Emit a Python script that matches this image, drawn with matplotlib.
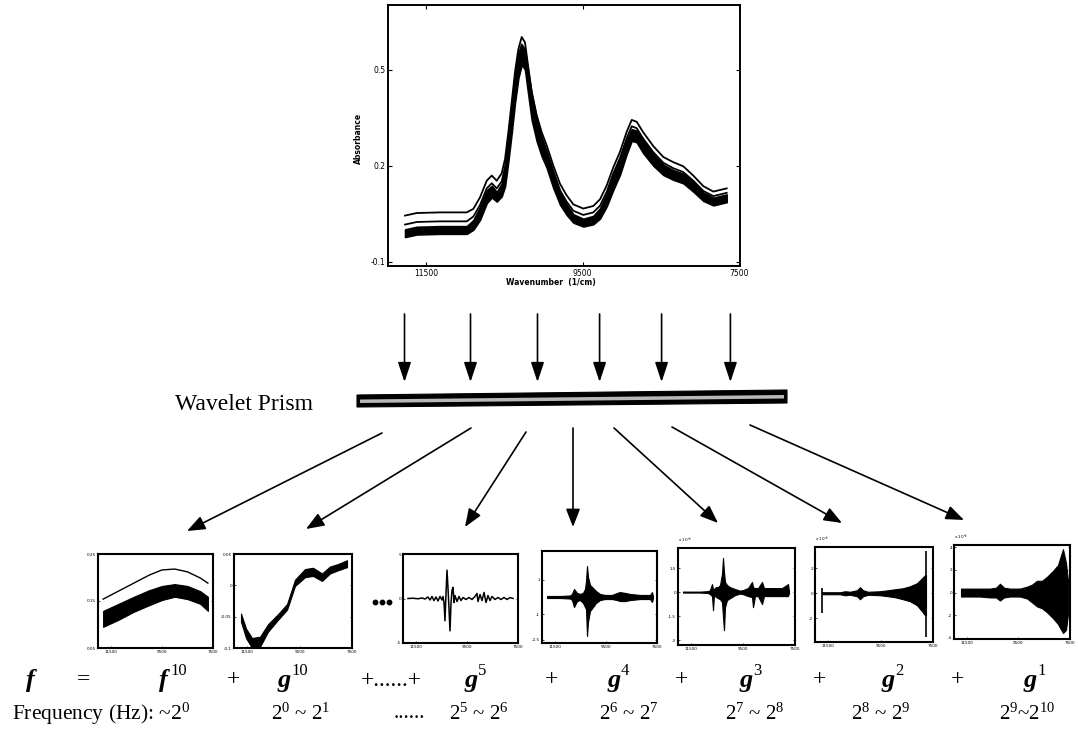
import matplotlib
matplotlib.use('Agg')
import numpy as np
import matplotlib.pyplot as plt
from matplotlib.patches import Polygon, FancyArrowPatch, ArrowStyle

W, H = 1078, 733
plt.rcParams['font.family'] = ['Liberation Serif', 'DejaVu Serif']
plt.rcParams['mathtext.fontset'] = 'custom'
plt.rcParams['mathtext.rm'] = 'Liberation Serif'
plt.rcParams['mathtext.it'] = 'Liberation Serif:italic'
plt.rcParams['mathtext.bf'] = 'Liberation Serif:bold'

# ---------------- data: main NIR spectra ----------------
spec_wn = [11768, 11619, 11321, 10980, 10895, 10810, 10724, 10660, 10596, 10533, 10490,
           10448, 10405, 10363, 10320, 10277, 10235, 10193, 10150, 10086, 10021, 9957,
           9873, 9787, 9702, 9617, 9490, 9362, 9276, 9191, 9106, 9021, 8935, 8871, 8807,
           8723, 8595, 8467, 8340, 8212, 8084, 7956, 7828, 7657]
spec_center = [-0.010, -0.002, 0.000, 0.000, 0.016, 0.052, 0.104, 0.120, 0.104, 0.125, 0.167,
               0.250, 0.344, 0.438, 0.510, 0.547, 0.531, 0.458, 0.385, 0.313, 0.260, 0.219,
               0.156, 0.099, 0.063, 0.036, 0.023, 0.031, 0.052, 0.094, 0.151, 0.198, 0.260,
               0.297, 0.292, 0.260, 0.219, 0.188, 0.172, 0.161, 0.135, 0.104, 0.089, 0.099]
spec_band_half = [0.012, 0.012, 0.012, 0.012, 0.015, 0.02, 0.02, 0.018, 0.015, 0.02, 0.03,
                  0.035, 0.04, 0.04, 0.035, 0.03, 0.03, 0.035, 0.04, 0.035, 0.03, 0.025,
                  0.025, 0.02, 0.016, 0.013, 0.012, 0.013, 0.016, 0.02, 0.025, 0.025, 0.022,
                  0.018, 0.018, 0.02, 0.018, 0.016, 0.015, 0.015, 0.015, 0.013, 0.012, 0.012]
spec_top_offset = [0.055, 0.055, 0.055, 0.055, 0.05, 0.05, 0.05, 0.05, 0.05, 0.052, 0.055,
                   0.055, 0.055, 0.055, 0.055, 0.056, 0.055, 0.05, 0.048, 0.046, 0.045, 0.045,
                   0.045, 0.045, 0.045, 0.044, 0.044, 0.044, 0.044, 0.045, 0.045, 0.046, 0.047,
                   0.047, 0.046, 0.045, 0.043, 0.04, 0.04, 0.038, 0.035, 0.033, 0.031, 0.031]
spec_second_offset = [0.027, 0.027, 0.027, 0.027, 0.026, 0.026, 0.026, 0.026, 0.026, 0.027,
                      0.03, 0.035, 0.035, 0.035, 0.035, 0.033, 0.033, 0.03, 0.028, 0.027, 0.026,
                      0.026, 0.026, 0.025, 0.025, 0.024, 0.024, 0.024, 0.024, 0.025, 0.026,
                      0.027, 0.027, 0.027, 0.026, 0.025, 0.024, 0.022, 0.021, 0.02, 0.019,
                      0.018, 0.017, 0.017]
main_xticks = [11500, 9500, 7500]
main_yticks = [-0.1, 0.2, 0.5]
main_yticklabels = ['-0.1', '0.2', '0.5']

# ---------------- data: f10 approximation ----------------
f10_wn = [11800, 11200, 10600, 10000, 9500, 9000, 8500, 8000, 7700]
f10_top = [0.154, 0.171, 0.188, 0.205, 0.216, 0.218, 0.212, 0.199, 0.188]
f10_hi = [0.129, 0.144, 0.159, 0.173, 0.182, 0.186, 0.182, 0.171, 0.159]
f10_lo = [0.095, 0.110, 0.127, 0.141, 0.152, 0.159, 0.154, 0.144, 0.129]

# ---------------- data: g10 detail ----------------
g10_wn = [11733, 11542, 11314, 11008, 10703, 10322, 9979, 9674, 9292, 8987, 8644, 8339, 8034, 7691]
g10_lo = [-0.058, -0.084, -0.100, -0.098, -0.074, -0.055, -0.039, -0.001, 0.013, 0.015, 0.007, 0.019, 0.024, 0.029]
g10_hi = [-0.045, -0.069, -0.084, -0.082, -0.062, -0.046, -0.030, 0.009, 0.026, 0.028, 0.019, 0.030, 0.034, 0.040]

# ---------------- data: g5 detail ----------------
g5_wn = [11804, 11609, 11413, 11257, 11139, 11022, 10943, 10865, 10787, 10709, 10630, 10552,
         10474, 10435, 10396, 10357, 10317, 10278, 10239, 10200, 10161, 10122, 10083, 10043,
         10004, 9965, 9887, 9809, 9730, 9652, 9535, 9417, 9300, 9183, 9104, 9065, 8987, 8909,
         8830, 8752, 8674, 8596, 8517, 8400, 8283, 8165, 8048, 7930, 7813, 7696]
g5_val = [0.0, 0.03, -0.03, 0.06, -0.06, 0.17, -0.17, 0.23, -0.23, 0.17, -0.28, 0.23,
          -0.17, 0.23, -0.45, -2.5, 0.57, 3.18, 1.14, -1.14, -3.64, -0.57, 0.91, 1.25,
          -0.45, 0.34, -0.34, 0.23, -0.23, 0.11, -0.11, 0.11, -0.11, 0.23, 0.57, -0.34, 0.45, -0.23,
          0.68, -0.45, 0.34, -0.23, 0.23, -0.11, 0.11, -0.11, 0.11, -0.11, 0.11, 0.0]

# ---------------- data: g4 detail (envelope) ----------------
g4_wn = [11804, 11296, 10904, 10826, 10748, 10630, 10513, 10396, 10317, 10278, 10239, 10200,
         10122, 10004, 9887, 9730, 9535, 9261, 9065, 8948, 8752, 8557, 8165, 7774, 7696, 7657]
g4_hi = [0.06, 0.06, 0.09, 0.18, 0.47, 0.24, 0.18, 0.24, 0.47, 0.94, 1.82, 1.18, 0.71, 0.53,
         0.35, 0.18, 0.12, 0.12, 0.24, 0.29, 0.24, 0.18, 0.12, 0.12, 0.29, 0.06]
g4_lo = [-0.06, -0.06, -0.09, -0.18, -0.59, -0.24, -0.18, -0.35, -0.59, -0.71, -2.29, -1.47,
         -0.82, -0.59, -0.35, -0.18, -0.12, -0.12, -0.18, -0.24, -0.24, -0.18, -0.12, -0.12, -0.29, -0.06]

# ---------------- data: g3 detail (envelope) ----------------
g3_wn = [11808, 11154, 10846, 10769, 10692, 10654, 10615, 10538, 10462, 10385, 10308, 10269,
         10231, 10192, 10115, 10000, 9808, 9615, 9500, 9308, 9154, 9115, 9038, 8923, 8769,
         8692, 8577, 8269, 8000, 7769, 7731]
g3_hi = [0.03, 0.03, 0.06, 0.13, 0.5, 0.19, 0.19, 0.31, 0.31, 0.44, 1.13, 2.13, 1.25, 0.63,
         0.44, 0.31, 0.19, 0.09, 0.13, 0.25, 0.63, 0.31, 0.25, 0.25, 0.63, 0.25, 0.25, 0.25,
         0.25, 0.5, 0.06]
g3_lo = [-0.03, -0.03, -0.06, -0.13, -0.25, -1.13, -0.19, -0.31, -0.38, -0.44, -0.63, -1.56,
         -2.38, -0.94, -0.5, -0.38, -0.19, -0.09, -0.13, -0.25, -0.31, -0.94, -0.25, -0.25,
         -0.75, -0.25, -0.25, -0.25, -0.25, -0.25, -0.06]

# ---------------- data: g2 detail (envelope + edge spikes) ----------------
g2_wn = [11733, 11047, 10856, 10665, 10398, 10284, 10169, 9979, 9521, 9216, 8949, 8644,
         8377, 8110, 7919, 7805, 7767]
g2_hi = [0.08, 0.08, 0.16, 0.12, 0.24, 0.48, 0.24, 0.12, 0.16, 0.24, 0.32, 0.40, 0.56,
         0.80, 1.20, 1.44, 1.44]
g2_lo = [-0.08, -0.08, -0.16, -0.12, -0.24, -0.48, -0.24, -0.12, -0.16, -0.24, -0.32, -0.48,
         -0.64, -0.96, -1.44, -1.76, -1.76]
g2_spike_wn = [11733, 7767]
g2_spike_lo = [-1.6, -3.5]
g2_spike_hi = [0.4, 3.4]

# ---------------- data: g1 detail (envelope) ----------------
g1_wn = [11728, 11379, 10991, 10603, 10371, 10216, 10060, 9828, 9440, 9168, 8974, 8780,
         8586, 8392, 8160, 7966, 7772, 7655, 7569]
g1_hi = [0.35, 0.35, 0.35, 0.35, 0.43, 0.78, 0.43, 0.35, 0.35, 0.52, 0.70, 1.04, 1.04,
         1.39, 1.91, 2.43, 3.83, 2.61, 0.87]
g1_lo = [-0.35, -0.35, -0.35, -0.43, -0.43, -0.70, -0.43, -0.35, -0.35, -0.52, -0.87, -1.22,
         -1.39, -1.74, -2.26, -2.78, -3.57, -3.30, -1.74]

small_xticks = [11500, 9500, 7500]
small_xticklabels = ['11500', '9500', '7500']

# formula / frequency labels
formula_letters = ['f', 'g', 'g', 'g', 'g', 'g', 'g']
formula_sups = ['10', '10', '5', '4', '3', '2', '1']
freq_labels = [r'$2^0$ ~ $2^1$', '......', r'$2^5$ ~ $2^6$', r'$2^6$ ~ $2^7$',
               r'$2^7$ ~ $2^8$', r'$2^8$ ~ $2^9$', r'$2^9$~$2^{10}$']

# ---------------- figure ----------------
fig = plt.figure(figsize=(W / 100, H / 100), dpi=100)
bg = fig.add_axes([0, 0, 1, 1])
bg.set_xlim(0, W)
bg.set_ylim(H, 0)
bg.axis('off')


def px_axes(l, t, r, b):
    return fig.add_axes([l / W, 1 - b / H, (r - l) / W, (b - t) / H])


# main spectrum plot
c = np.array(spec_center)
hw = np.array(spec_band_half)
ax = px_axes(388, 5, 740, 266)
ax.fill_between(spec_wn, c - hw, c + hw, color='k', lw=1.2)
ax.plot(spec_wn, c + np.array(spec_second_offset), color='k', lw=1.3)
ax.plot(spec_wn, c + np.array(spec_top_offset), color='k', lw=1.3)
ax.set_xlim(11986, 7487)
ax.set_ylim(-0.1125, 0.703)
ax.set_xticks(main_xticks)
ax.set_xticklabels([str(v) for v in main_xticks])
ax.set_yticks(main_yticks)
ax.set_yticklabels(main_yticklabels)
ax.tick_params(direction='in', length=3, width=0.8, labelsize=5.5, top=True, right=True, pad=2)
for lbl in ax.get_xticklabels() + ax.get_yticklabels():
    lbl.set_family('DejaVu Sans')
for s in ax.spines.values():
    s.set_linewidth(1.4)
bg.text(358, 138, 'Absorbance', rotation=90, ha='center', va='center', fontsize=5.5,
        fontweight='bold', family='DejaVu Sans')
bg.text(551, 283, 'Wavenumber  (1/cm)', ha='center', va='center', fontsize=5.5,
        fontweight='bold', family='DejaVu Sans')


def small_axes(box, ylim, yticks, yticklabels, scale_label=None):
    a = px_axes(*box)
    a.set_xlim(12000, 7500)
    a.set_ylim(*ylim)
    a.set_xticks(small_xticks)
    a.set_xticklabels(small_xticklabels)
    a.set_yticks(yticks)
    a.set_yticklabels(yticklabels)
    a.tick_params(direction='in', length=1.5, width=0.5, labelsize=3, pad=1.5, right=True)
    for lbl in a.get_xticklabels() + a.get_yticklabels():
        lbl.set_family('DejaVu Sans')
    for s in a.spines.values():
        s.set_linewidth(1.5)
    if scale_label:
        a.text(0.0, 1.03, scale_label, transform=a.transAxes, fontsize=3,
               family='DejaVu Sans', ha='left', va='bottom')
    return a


a1 = small_axes((98, 554, 213, 648), (0.05, 0.25), [0.05, 0.15, 0.25], ['0.05', '0.15', '0.25'])
a1.fill_between(f10_wn, f10_lo, f10_hi, color='k', lw=0.8)
a1.plot(f10_wn, f10_top, color='k', lw=1.0)

a2 = small_axes((234, 554, 352, 648), (-0.10, 0.05), [-0.1, -0.05, 0, 0.05], ['-0.1', '-0.05', '0', '0.05'])
a2.fill_between(g10_wn, g10_lo, g10_hi, color='k', lw=0.8)

a3 = small_axes((403, 554, 518, 643), (-5, 5), [-5, 0, 5], ['-5', '0', '5'])
a3.plot(g5_wn, g5_val, color='k', lw=1.1)

a4 = small_axes((542, 551, 657, 643), (-2.7, 2.7), [-2.5, -1, 1], ['-2.5', '-1', '1'])
a4.fill_between(g4_wn, g4_lo, g4_hi, color='k', lw=0.8)

a5 = small_axes((678, 548, 795, 645), (-3.3, 2.75), [-3, -1.5, 0, 1.5], ['-3', '-1.5', '0', '1.5'],
                r'x 10$^{-4}$')
a5.fill_between(g3_wn, g3_lo, g3_hi, color='k', lw=0.8)

a6 = small_axes((815, 547, 933, 642), (-3.9, 3.7), [-2, 0, 2], ['-2', '0', '2'], r'x 10$^{-4}$')
a6.fill_between(g2_wn, g2_lo, g2_hi, color='k', lw=0.8)
a6.vlines(g2_spike_wn, g2_spike_lo, g2_spike_hi, color='k', lw=1.2)

a7 = small_axes((954, 545, 1070, 639), (-4.1, 4.2), [-4, -2, 0, 2, 4], ['-4', '-2', '0', '2', '4'],
                r'x 10$^{-4}$')
a7.fill_between(g1_wn, g1_lo, g1_hi, color='k', lw=0.8)

# dots between g10 and g5
bg.plot([375, 382, 389], [602, 602, 602], 'o', ms=3.2, color='k')

# vertical arrows into prism
vert_x = [404.5, 470.5, 537.5, 599.6, 661.6, 730.4]
for x in vert_x:
    bg.add_patch(FancyArrowPatch((x, 314), (x, 382),
                                 arrowstyle=ArrowStyle('-|>', head_length=12, head_width=4.0),
                                 mutation_scale=1, lw=1.2, color='k', shrinkA=0, shrinkB=0))

# prism
bg.add_patch(Polygon([(357, 395), (787, 390), (787, 403), (357, 407)], closed=True,
                     facecolor='k', edgecolor='k', lw=0.8))
bg.add_patch(Polygon([(360, 399.5), (784, 395), (784, 398.5), (360, 403)], closed=True,
                     facecolor='#b8b8b8', edgecolor='none'))
bg.text(175, 404, 'Wavelet Prism', ha='left', va='center', fontsize=17)

# diagonal arrows out of prism
diag_start = [(382, 433), (471, 428), (526, 432), (573, 428), (614, 428), (672, 427), (750, 425)]
diag_end = [(187, 531), (306, 529), (465, 527), (573, 527), (718, 523), (842, 523), (964, 520)]
for (x0, y0), (x1, y1) in zip(diag_start, diag_end):
    bg.add_patch(FancyArrowPatch((x0, y0), (x1, y1),
                                 arrowstyle=ArrowStyle('-|>', head_length=11, head_width=4.3),
                                 mutation_scale=1, lw=1.2, color='k', shrinkA=0, shrinkB=0))

# formula row
yf = 680
bg.text(30, yf, 'f', fontsize=19, fontstyle='italic', fontweight='bold', ha='center', va='center')
bg.text(83, yf, '=', fontsize=17, ha='center', va='center')
letter_x = [163, 284, 471, 614, 746, 888, 1030]
plus_x = [233, 552, 682, 820, 957]
for lx, letter, sup in zip(letter_x, formula_letters, formula_sups):
    bg.text(lx, yf, letter, fontsize=19, fontstyle='italic', fontweight='bold', ha='center', va='center')
    bg.text(lx + 7, yf - 9, sup, fontsize=12, ha='left', va='center')
for px in plus_x:
    bg.text(px, yf, '+', fontsize=17, ha='center', va='center')
bg.text(391, yf, '+......+', fontsize=17, ha='center', va='center')

# frequency row
yq = 714
bg.text(12, yq, r'Frequency (Hz): ~$2^0$', fontsize=15.5, ha='left', va='center')
freq_x = [301, 409, 479, 629, 755, 881, 1027]
for fx, lab in zip(freq_x, freq_labels):
    bg.text(fx, yq, lab, fontsize=15, ha='center', va='center')

fig.savefig('out.png', dpi=100)
